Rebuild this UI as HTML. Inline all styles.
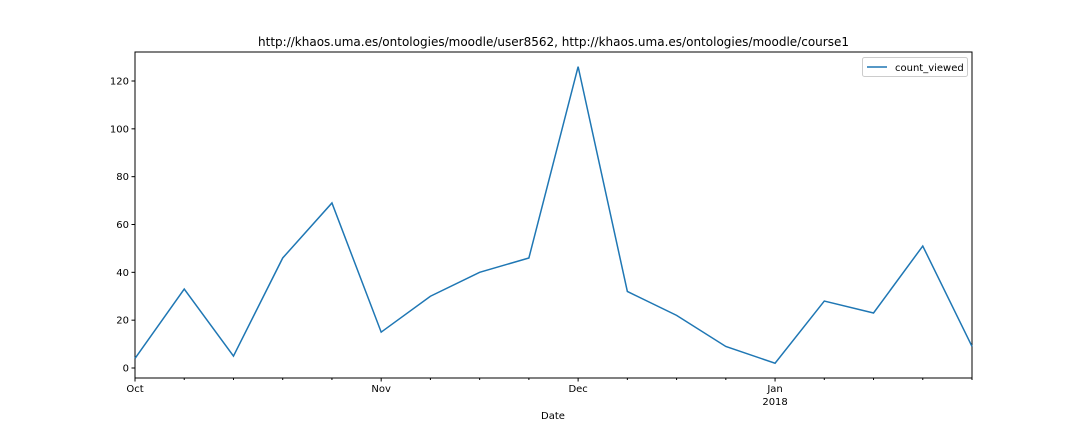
<!DOCTYPE html>
<html><head><meta charset="utf-8"><style>
body{margin:0;background:#fff;}
svg text{font-family:"DejaVu Sans","Liberation Sans",sans-serif;fill:#000;}
</style></head><body>
<svg width="1080" height="432" id="c">
<text x="258" y="46" font-size="12" textLength="591" lengthAdjust="spacingAndGlyphs">http://khaos.uma.es/ontologies/moodle/user8562, http://khaos.uma.es/ontologies/moodle/course1</text>
<text x="553" y="419" font-size="10" text-anchor="middle">Date</text>
</svg>
<script>
const values=[4,33,5,46,69,15,30,40,46,126,32,22,9,2,28,23,51,9];
const yTicks=[0,20,40,60,80,100,120];
const xMajorIdx=[0,5,9,13];
const xMajorLabels=["Oct","Nov","Dec","Jan"];
const xMajorSub=["","","","2018"];
const NS="http://www.w3.org/2000/svg";
const svg=document.getElementById('c');
const L=135,R=972,T=52,B=378;
const xs=i=>L+(R-L)*i/(values.length-1);
const ys=v=>368-v*(368-81)/120;
function mk(t,a,p){const e=document.createElementNS(NS,t);for(const k in a)e.setAttribute(k,a[k]);(p||svg).appendChild(e);return e;}
const frame=mk('rect',{x:L,y:T,width:R-L,height:B-T,fill:'none',stroke:'#000','stroke-width':1});


yTicks.forEach(v=>{
  const y=ys(v);
  const tk=mk('line',{x1:L-3.5,x2:L,y1:y,y2:y,stroke:'#000'});
  
  
  const t=mk('text',{x:L-6,y:y+3.5,'font-size':10,'text-anchor':'end'});t.textContent=v;
  
  
});
values.forEach((v,i)=>{
  const x=xs(i);const major=xMajorIdx.includes(i);
  const tk=mk('line',{x1:x,x2:x,y1:B,y2:B+(major?3.5:2),stroke:'#000'});
  
  
});
xMajorIdx.forEach((i,k)=>{
  const t=mk('text',{x:xs(i),y:B+14,'font-size':10,'text-anchor':'middle'});t.textContent=xMajorLabels[k];
  
  
  if(xMajorSub[k]){const s=mk('text',{x:xs(i),y:B+27,'font-size':10,'text-anchor':'middle'});s.textContent=xMajorSub[k];
  
  }
});
const line=mk('polyline',{points:values.map((v,i)=>xs(i)+','+ys(v)).join(' '),fill:'none',stroke:'#1f77b4','stroke-width':1.5});


const lg=mk('rect',{x:862.5,y:57.5,width:105,height:19,rx:2,fill:'#fff',stroke:'#ccc'});


const ll=mk('line',{x1:867,x2:887,y1:67,y2:67,stroke:'#1f77b4','stroke-width':1.5});


const lt=mk('text',{x:895,y:71,'font-size':10});lt.textContent='count_viewed';


</script>
</body></html>
